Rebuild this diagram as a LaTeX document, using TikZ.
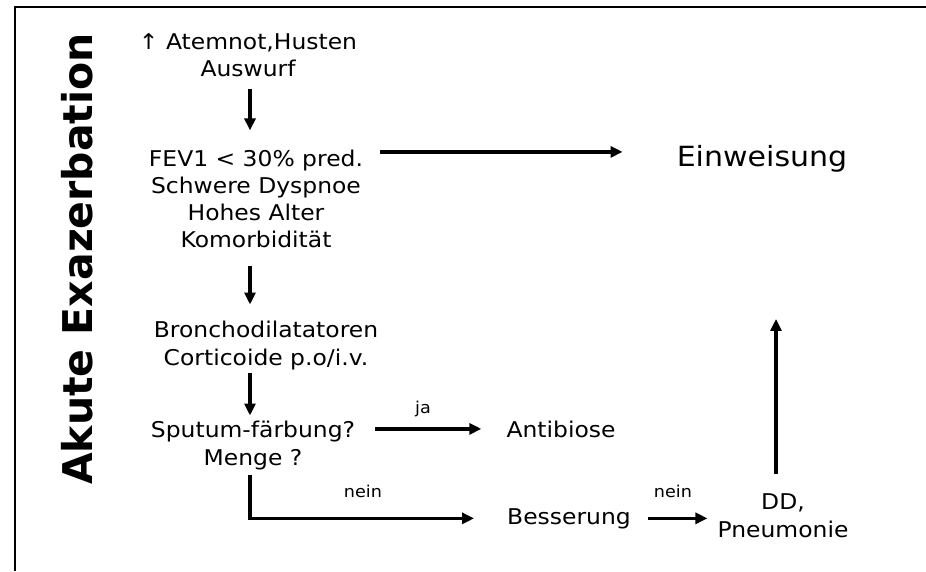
\documentclass[tikz,border=0pt]{standalone}
\usepackage{fontspec}
\setmainfont{DejaVu Sans}[FakeStretch=1.08]
\newfontfamily\titlefont{DejaVu Sans}
\usetikzlibrary{arrows.meta}
\tikzset{
  body/.style={inner sep=0pt, anchor=base, align=center,
    font=\fontsize{21.7}{27.3}\selectfont},
  big/.style={inner sep=0pt, anchor=base, font=\fontsize{27.8}{33}\selectfont},
  tag/.style={inner sep=0pt, anchor=base, font=\fontsize{16.3}{20}\selectfont},
  arr/.style={line width=3.3pt, -{Triangle[length=12pt,width=11pt]}},
  frame/.style={line width=2pt}
}
\begin{document}
\begin{tikzpicture}[x=1pt,y=1pt]
\useasboundingbox (0,0) rectangle (926,571);
% frame lines
\draw[frame] (926,564) -- (15,564) -- (15,0);
% column positions of the vertical connectors
\coordinate (colA) at (250,0);
\coordinate (colB) at (776,0);
% title
\node[rotate=90, anchor=base, inner sep=0pt,
      font=\titlefont\bfseries\fontsize{41}{44}\selectfont] (title) at (92,312) {Akute Exazerbation};
% text blocks (anchored at the baseline of their last line)
\node[body] (n1) at (248,494) {↑ Atemnot,Husten\\Auswurf};
\node[body] (n2) at (256,323) {FEV1 < 30\% pred.\\Schwere Dyspnoe\\Hohes Alter\\Komorbidität};
\node[body] (n3) at (266,206) {Bronchodilatatoren\\Corticoide p.o/i.v.};
\node[body] (n4) at (253,106) {Sputum-färbung?\\Menge ?};
\node[big]  (ein) at (762,404) {Einweisung};
\node[body] (anti) at (561,134) {Antibiose};
\node[body] (bess) at (569,47) {Besserung};
\node[body] (dd) at (783,34) {DD,\\Pneumonie};
% branch labels
\node[tag] (ja) at (423,158) {ja};
\node[tag] (nein1) at (363,74) {nein};
\node[tag] (nein2) at (673,74) {nein};
% connectors
\draw[arr, shorten <=11pt, shorten >=19pt] (n1.south -| colA) -- (n2.north -| colA);
\draw[arr, shorten <=17pt, shorten >=54pt] ([yshift=-2.5pt]n2.north east) -- ([yshift=-2.5pt]n2.north east -| ein.west);
\draw[arr, shorten <=17pt, shorten >=16.5pt] (n2.south -| colA) -- (n3.north -| colA);
\draw[arr, shorten <=3pt, shorten >=5.5pt] (n3.south -| colA) -- (n4.north -| colA);
\draw[arr, shorten <=20pt, shorten >=25pt] (n4.east |- anti.west) -- (anti.west);
\draw[arr, shorten <=5pt, shorten >=33pt] (n4.south -| colA) |- (bess.west);
\draw[arr, shorten <=17pt, shorten >=10pt] (bess.east) -- (dd.west |- bess.east);
\draw[arr, shorten <=20pt, shorten >=146pt] (dd.north -| colB) -- (ein.south -| colB);
\end{tikzpicture}
\end{document}
